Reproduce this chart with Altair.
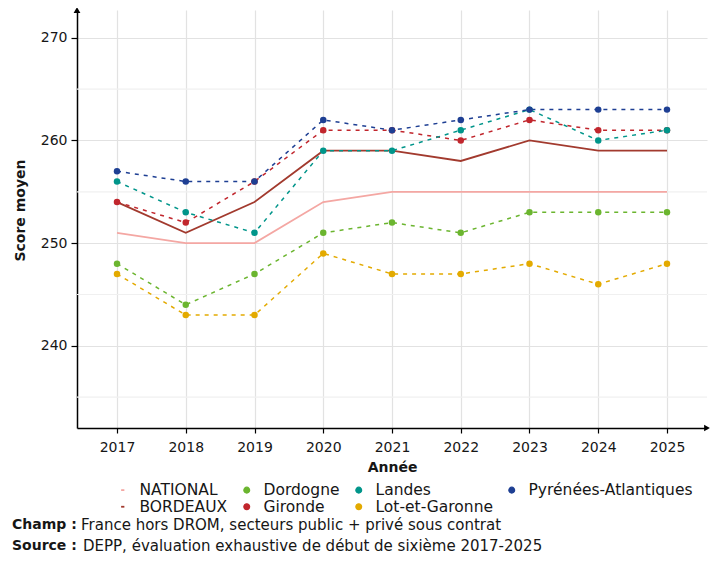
import altair as alt
import pandas as pd

years = [2017, 2018, 2019, 2020, 2021, 2022, 2023, 2024, 2025]

series_names = ["NATIONAL", "BORDEAUX", "Dordogne", "Gironde", "Landes",
                "Lot-et-Garonne", "Pyrénées-Atlantiques"]
national = [251, 250, 250, 254, 255, 255, 255, 255, 255]
bordeaux = [254, 251, 254, 259, 259, 258, 260, 259, 259]
dordogne = [248, 244, 247, 251, 252, 251, 253, 253, 253]
gironde = [254, 252, 256, 261, 261, 260, 262, 261, 261]
landes = [256, 253, 251, 259, 259, 261, 263, 260, 261]
lot_et_garonne = [247, 243, 243, 249, 247, 247, 248, 246, 248]
pyrenees_atl = [257, 256, 256, 262, 261, 262, 263, 263, 263]
all_values = [national, bordeaux, dordogne, gironde, landes, lot_et_garonne, pyrenees_atl]

series_colors = ["#F4A7A3", "#A23A2E", "#6BB52F", "#C1262D", "#00958A", "#E3AA00", "#1E3F93"]

y_major = [240, 250, 260, 270]
y_minor = [235, 245, 255, 265]
x_domain = [2016.418, 2025.582]
y_domain = [232, 272.7]

caption_bold = ["Champ :", "Source :"]
caption_text = ["France hors DROM, secteurs public + privé sous contrat",
                "DEPP, évaluation exhaustive de début de sixième 2017-2025"]

FONT = "DejaVu Sans"

rows = []
for name, vals in zip(series_names, all_values):
    for yr, v in zip(years, vals):
        rows.append({"annee": yr, "score": v, "serie": name,
                     "ordre": series_names.index(name)})
df = pd.DataFrame(rows)
solid_df = df[df["serie"].isin(["NATIONAL", "BORDEAUX"])]
dept_df = df[~df["serie"].isin(["NATIONAL", "BORDEAUX"])]

dash_path = "M-0.35,-0.1L0.35,-0.1L0.35,0.1L-0.35,0.1Z"
color_scale = alt.Scale(domain=series_names, range=series_colors)
shape_scale = alt.Scale(domain=series_names,
                        range=[dash_path if n in ("NATIONAL", "BORDEAUX") else "circle"
                               for n in series_names])

legend = alt.Legend(orient="none", legendX=38, legendY=472, columns=4, direction="vertical",
                    title=None, labelFontSize=15.5, labelFont=FONT, labelColor="#161616",
                    labelLimit=400,
                    symbolSize=34, rowPadding=0, columnPadding=11, labelOffset=9,
                    symbolStrokeWidth=1.2, symbolOpacity=1)

x_axis = alt.Axis(values=years, format="d", grid=True, gridColor="#e2e2e2", gridWidth=1.2,
                  domainColor="black", domainWidth=1.5, tickColor="black", tickSize=5,
                  tickWidth=1.2, labelFontSize=14, labelFont=FONT, labelColor="#161616",
                  labelPadding=7, title="Année", titleFont=FONT, titleFontSize=14,
                  titleFontWeight="bold", titleColor="#161616", titlePadding=6)
y_axis = alt.Axis(values=y_major, grid=True, gridColor="#e2e2e2", gridWidth=1.2,
                  domainColor="black", domainWidth=1.5, tickColor="black", tickSize=6,
                  tickWidth=1.2, labelFontSize=14, labelFont=FONT, labelColor="#161616",
                  labelPadding=4, title="Score moyen", titleFont=FONT, titleFontSize=14,
                  titleFontWeight="bold", titleColor="#161616", titleX=-50, titleY=200)

X = alt.X("annee:Q", scale=alt.Scale(domain=x_domain, nice=False, zero=False), axis=x_axis)
Y = alt.Y("score:Q", scale=alt.Scale(domain=y_domain, nice=False, zero=False), axis=y_axis)

minor = alt.Chart(pd.DataFrame({"score": y_minor})).mark_rule(
    color="#f0f0f0", strokeWidth=1.2).encode(y=Y)

solid = alt.Chart(solid_df).mark_line(strokeWidth=1.8).encode(
    x=X, y=Y,
    color=alt.Color("serie:N", scale=color_scale, legend=legend),
    order="annee:Q")

dashed = alt.Chart(dept_df).mark_line(strokeWidth=1.5, strokeDash=[4, 5]).encode(
    x=X, y=Y,
    color=alt.Color("serie:N", scale=color_scale, legend=legend),
    order="annee:Q")

points = alt.Chart(dept_df).mark_point(filled=True, size=42, opacity=1).encode(
    x=X, y=Y,
    color=alt.Color("serie:N", scale=color_scale, legend=legend),
    shape=alt.Shape("serie:N", scale=shape_scale, legend=legend),
    order="ordre:Q")

arrow_y = alt.Chart(pd.DataFrame({"annee": [x_domain[0]], "score": [y_domain[1]]})).mark_point(
    shape="triangle-up", filled=True, color="black", size=45, opacity=1).encode(x=X, y=Y)
arrow_x = alt.Chart(pd.DataFrame({"annee": [x_domain[1]], "score": [y_domain[0]]})).mark_point(
    shape="triangle-right", filled=True, color="black", size=45, opacity=1).encode(x=X, y=Y)

cap_df = pd.DataFrame({"b": caption_bold, "t": caption_text, "row": [0, 1]})
cap_bold = alt.Chart(cap_df).transform_filter("datum.row == 0").mark_text(
    align="left", baseline="middle", fontSize=14, font=FONT, fontWeight="bold",
    color="#161616").encode(x=alt.value(-65), y=alt.value(515), text="b:N")
cap_bold2 = alt.Chart(cap_df).transform_filter("datum.row == 1").mark_text(
    align="left", baseline="middle", fontSize=14, font=FONT, fontWeight="bold",
    color="#161616").encode(x=alt.value(-65), y=alt.value(536), text="b:N")
cap_t1 = alt.Chart(cap_df).transform_filter("datum.row == 0").mark_text(
    align="left", baseline="middle", fontSize=15, font=FONT,
    color="#161616").encode(x=alt.value(4), y=alt.value(515), text="t:N")
cap_t2 = alt.Chart(cap_df).transform_filter("datum.row == 1").mark_text(
    align="left", baseline="middle", fontSize=15, font=FONT,
    color="#161616").encode(x=alt.value(6), y=alt.value(536), text="t:N")

chart = alt.layer(minor, solid, dashed, points, arrow_y, arrow_x,
                  cap_bold, cap_bold2, cap_t1, cap_t2).properties(
    width=630, height=418,
    autosize=alt.AutoSizeParams(type="none"),
    padding={"left": 69, "top": 2, "right": 3, "bottom": 133},
    background="white",
).configure_view(stroke=None)

chart.save("out.html", embed_options={"renderer": "svg", "actions": False})
